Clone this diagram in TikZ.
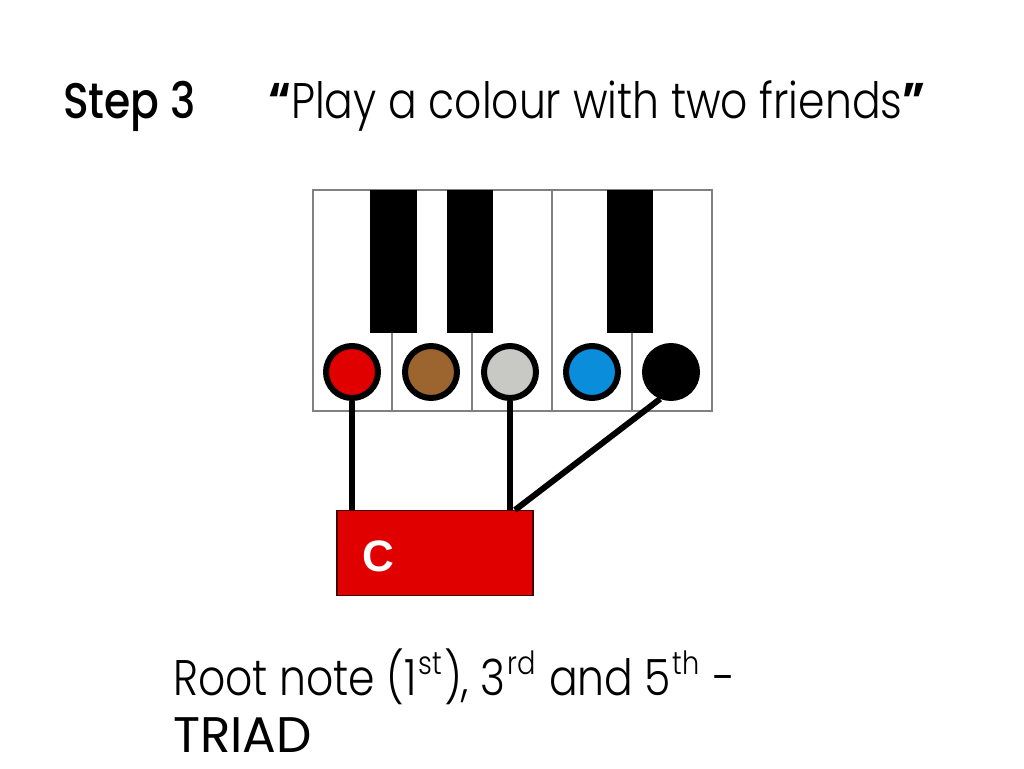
\documentclass[tikz,border=0pt]{standalone}
\usepackage{fontspec}
\setmainfont{Poppins}
\newfontfamily\thinfont{Poppins Light}
\newfontfamily\medfont{Poppins Medium}
\newfontfamily\armfont{Liberation Sans}
\definecolor{keyred}{HTML}{E00000}
\definecolor{keybrown}{HTML}{9C6530}
\definecolor{keygrey}{HTML}{C8C8C4}
\definecolor{keyblue}{HTML}{0A8EDC}
\definecolor{keyline}{HTML}{808080}
\newcommand{\squeeze}[1]{\scalebox{0.85}[1]{#1}}
\newcommand{\ordsup}[1]{\kern2pt\relax\raisebox{0.42em}{\fontsize{32}{36}\selectfont #1}\kern2pt\relax}
\tikzset{
  whitekey/.style={draw=keyline,line width=2pt,fill=white},
  blackkey/.style={fill=black},
  dot/.style={circle,draw=black,line width=6pt,minimum size=52pt,inner sep=0pt},
  wire/.style={draw=black,line width=6pt},
  chordbox/.style={draw=black!70!keyred,line width=1.5pt,fill=keyred,minimum width=196pt,minimum height=85pt,inner sep=0pt},
  title/.style={anchor=base west,inner sep=0pt,font=\medfont\fontsize{50}{60}\selectfont},
  body/.style={anchor=base west,inner sep=0pt,font=\thinfont\fontsize{50}{60}\selectfont}
}
\begin{document}
\begin{tikzpicture}[x=1pt,y=-1pt]
\useasboundingbox (0,0) rectangle (1024,768);
\fill[white] (0,0) rectangle (1024,768);
% title
\node[title] (step) at (63,118) {\squeeze{Step 3}};
\node[body] (quote) at (268,118) {\squeeze{{\normalfont\bfseries “}Play a colour with two friends{\normalfont\bfseries ”}}};
% keyboard
\foreach \x in {313,392,472,552,632}
  \draw[whitekey] (\x,190) rectangle ++(79.6,221);
\fill[blackkey] (370,190) rectangle (417,333);
\fill[blackkey] (447,190) rectangle (493,333);
\fill[blackkey] (607,190) rectangle (653,333);
% dots
\node[dot,fill=keyred] (d1) at (352,372) {};
\node[dot,fill=keybrown] (d2) at (431,372) {};
\node[dot,fill=keygrey] (d3) at (510,372) {};
\node[dot,fill=keyblue] (d4) at (592,372) {};
\node[dot,fill=black] (d5) at (671,372) {};
% chord box
\node[chordbox] (box) at (435,553) {};
\node[anchor=center,text=white,font=\armfont\bfseries\fontsize{44}{48}\selectfont] (clabel) at (378,556) {C};
\coordinate (boxin) at (515,510);
\draw[wire] (d1.south) -- (d1.south |- box.north);
\draw[wire] (d3.south) -- (d3.south |- box.north);
\draw[wire] (d5.248) -- (boxin);
% bottom text
\node[body] (root) at (173,695) {\squeeze{Root note (1\ordsup{st}), 3\ordsup{rd} and 5\ordsup{th} -}};
\node[body,font=\fontsize{50}{60}\selectfont] (triad) at (173,752) {TRIAD};
\end{tikzpicture}
\end{document}
